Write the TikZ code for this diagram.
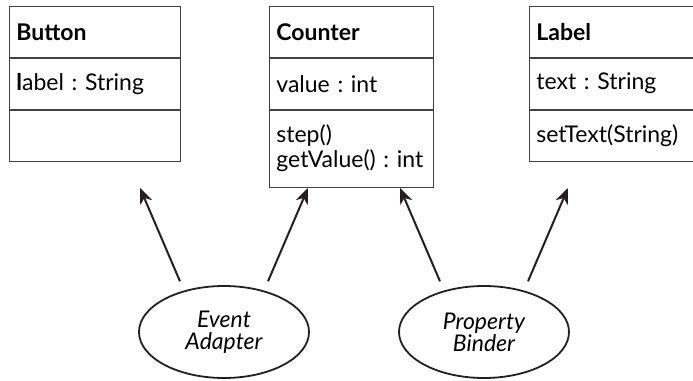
\documentclass[tikz,border=0pt]{standalone}
\usepackage{fontspec}
\setmainfont{Lato}
\frenchspacing
\usetikzlibrary{arrows.meta,positioning,shapes.geometric}
\definecolor{ink}{HTML}{231F20}
\tikzset{
  classpart/.style={draw=ink!85, line width=0.8pt, anchor=north west, inner xsep=7pt,
    inner ysep=0pt, minimum height=51pt, align=left, font=\fontsize{23}{25}\selectfont},
  titlepart/.style={classpart, font=\fontsize{23}{25}\selectfont\bfseries},
  roleoval/.style={ellipse, draw=ink, line width=1.8pt, minimum width=170pt,
    minimum height=92pt, inner sep=0pt, align=center, font=\fontsize{23}{22}\selectfont\itshape},
  linkarrow/.style={-{Stealth[length=16pt, width=13pt]}, ink, line width=2pt, shorten <=10pt},
}

\begin{document}
\begin{tikzpicture}[x=1pt, y=1pt]
    \useasboundingbox (0,0) rectangle (693,380);
    % ---------------- classes ----------------
    \node[titlepart, text width=157pt] (btnname) at (9,374) {Button};
    \node[classpart, text width=157pt, below=0pt of btnname] (btnattr) {{\bfseries l}abel : String};
    \node[classpart, text width=157pt, below=0pt of btnattr] (btnops) {};

    \node[titlepart, text width=150pt] (cntname) at (269,374) {Counter};
    \node[classpart, text width=150pt, below=0pt of cntname] (cntattr) {value : int};
    \node[classpart, text width=150pt, minimum height=77pt, below=0pt of cntattr] (cntops)
      {step()\\getValue() : int};

    \node[titlepart, text width=152pt] (lblname) at (529,374) {Label};
    \node[classpart, text width=152pt, below=0pt of lblname] (lblattr) {text : String};
    \node[classpart, text width=152pt, below=0pt of lblattr] (lblops) {setText(String)};

    % ---------------- connectors ----------------
    \node[roleoval] (adapter) at (224,48) {Event\\Adapter};
    \node[roleoval] (binder) at (484,48) {Property\\Binder};
    \coordinate (btnhook) at (140,192);
    \coordinate (cnthook) at (308,192);
    \coordinate (cnthookb) at (400,192);
    \coordinate (lblhook) at (568,192);
    \draw[linkarrow] (adapter.134) -- (btnhook);
    \draw[linkarrow] (adapter.46) -- (cnthook);
    \draw[linkarrow] (binder.134) -- (cnthookb);
    \draw[linkarrow] (binder.46) -- (lblhook);
\end{tikzpicture}
\end{document}
